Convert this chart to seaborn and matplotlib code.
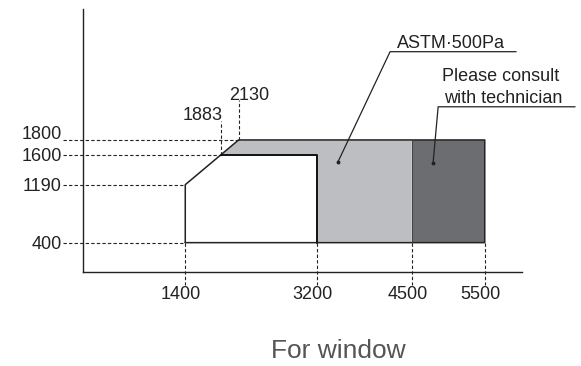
import matplotlib
matplotlib.use("Agg")
import matplotlib.pyplot as plt
import seaborn as sns
import pandas as pd

# ---- data ----
x_ticks = [1400, 3200, 4500, 5500]
y_ticks = [400, 1190, 1600, 1800]
corner_x = [1883, 2130]
title_text = "For window"
astm_label = "ASTM\u00b7500Pa"
consult_label = ["Please consult", "with technician"]

sns.set_theme(style="white")
plt.rcParams["font.family"] = ["Liberation Sans", "DejaVu Sans"]

W, H = 581, 366
fig = plt.figure(figsize=(W / 100, H / 100), dpi=100)
ax = fig.add_axes([83 / W, 94 / H, 439 / W, 263 / H])
ax.set_xlim(0, 6010)
ax.set_ylim(0, 3585)
ax.set_xticks([])
ax.set_yticks([])
for s in ["top", "right"]:
    ax.spines[s].set_visible(False)
for s in ["left", "bottom"]:
    ax.spines[s].set_color("#222222")
    ax.spines[s].set_linewidth(1.0)

x0, x1, x2, x3 = x_ticks
ylo, ymid, y1600, y1800 = y_ticks
cx1, cx2 = corner_x

light = "#bdbec1"
dark = "#6c6d71"
edge = "#222222"

# light gray region (ASTM)
ax.fill([cx1, cx2, x2, x2, x1, x1], [y1600, y1800, y1800, ylo, ylo, y1600],
        color=light, lw=0, zorder=1)
# dark gray region (consult)
ax.fill([x2, x3, x3, x2], [ylo, ylo, y1800, y1800], color=dark, lw=0, zorder=1)

# outlines via seaborn
outer = pd.DataFrame({"x": [x0, x0, cx2, x3, x3, x0],
                      "y": [ylo, ymid, y1800, y1800, ylo, ylo]})
sns.lineplot(data=outer, x="x", y="y", sort=False, estimator=None,
             color=edge, lw=1.1, ax=ax, zorder=3)
inner = pd.DataFrame({"x": [cx1, x1, x1], "y": [y1600, y1600, ylo]})
sns.lineplot(data=inner, x="x", y="y", sort=False, estimator=None,
             color="#111111", lw=1.4, ax=ax, zorder=3)
ax.plot([x2, x2], [ylo, y1800], color="#444444", lw=0.8, zorder=3)

dash = dict(color="#222222", lw=0.8, ls=(0, (3, 2)), clip_on=False, zorder=2)
fs = 13
# horizontal guides and y labels
xstart = -270
h_end = {ylo: x0, ymid: x0, y1600: cx1, y1800: cx2}
for yv in y_ticks:
    ax.plot([xstart, h_end[yv]], [yv, yv], **dash)
    dy = 80 if yv == y1800 else -20
    ax.text(xstart - 20, yv + dy, str(yv), ha="right", va="center",
            fontsize=fs, color="#222222", clip_on=False)

# vertical guides and x labels
for xv in x_ticks:
    ax.plot([xv, xv], [ylo, -172], **dash)
    ax.text(xv - 60, -308, str(xv), ha="center", va="center",
            fontsize=fs, color="#222222", clip_on=False)

# corner labels
ax.plot([cx1, cx1], [y1600, 2053], **dash)
ax.text(cx1 + 35, 2067, str(cx1), ha="right", va="baseline",
        fontsize=fs, color="#222222")
ax.plot([cx2, cx2], [y1800, 2349], **dash)
ax.text(cx2 - 125, 2349, str(cx2), ha="left", va="baseline",
        fontsize=fs, color="#222222")

# ASTM annotation
lead = dict(color="#222222", lw=0.9, clip_on=False, zorder=4)
ax.plot([3492, 4204, 5930], [1504, 3003, 3003], **lead)
ax.plot([3492], [1504], marker="o", ms=1.8, color="#222222")
ax.text(4300, 3060, astm_label, ha="left", va="baseline",
        fontsize=fs, color="#222222")

# consult annotation
ax.plot([4793, 4862, 6737], [1490, 2252, 2252], **lead)
ax.plot([4793], [1490], marker="o", ms=1.8, color="#222222")
ax.text(4918, 2600, consult_label[0], ha="left", va="baseline",
        fontsize=fs, color="#222222", clip_on=False)
ax.text(4940, 2300, consult_label[1], ha="left", va="baseline",
        fontsize=fs, color="#222222", clip_on=False)

fig.text(338 / W, 1 - 351 / H, title_text, ha="center", va="center",
         fontsize=19, color="#555555")

fig.savefig("out.png", dpi=100)
